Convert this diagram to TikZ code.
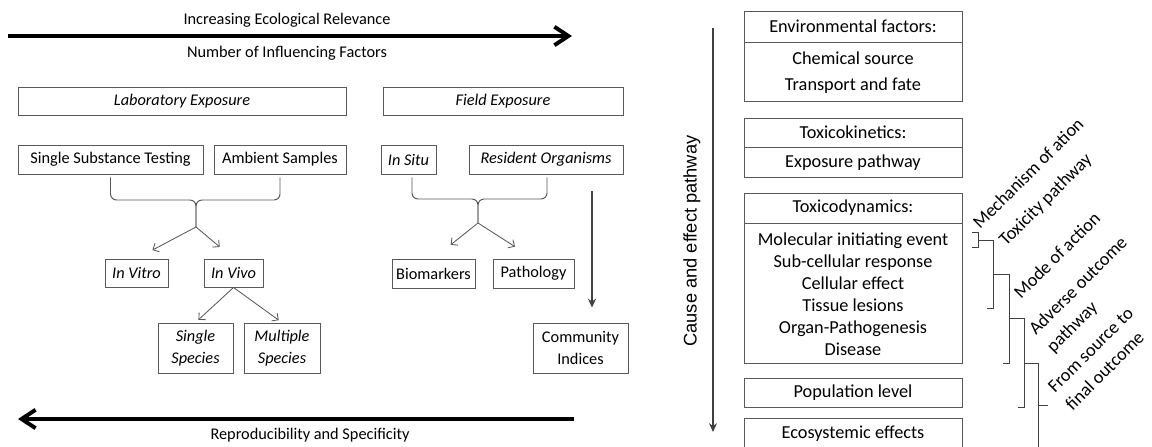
\documentclass[tikz,border=0pt]{standalone}
\usepackage{fontspec}
\setmainfont{Carlito}
\newfontfamily\arialfont{Liberation Sans}
\usetikzlibrary{arrows.meta,calc}
\definecolor{boxgray}{HTML}{595959}
\definecolor{linegray}{HTML}{404040}
\tikzset{
  lbox/.style 2 args={draw=boxgray, line width=0.7pt, inner sep=0pt, align=center,
    minimum width=#1*\kpx cm, minimum height=#2*\kpx cm,
    font=\fontsize{11.6}{15.6}\selectfont},
  rbox/.style 2 args={draw=boxgray, line width=0.7pt, inner sep=0pt, align=center,
    minimum width=#1*\kpx cm, minimum height=#2*\kpx cm,
    font=\fontsize{13}{15.6}\selectfont},
  ttl/.style={inner sep=0pt, font=\fontsize{11.6}{14}\selectfont},
  lbl/.style={rotate=45, inner sep=0pt, align=left, font=\fontsize{13}{17.6}\selectfont},
  thk/.style={line width=2.8pt, -{Straight Barb[length=3.5mm,width=4.6mm]}},
  thn/.style={draw=boxgray, line width=0.6pt, -{Straight Barb[length=1.2mm,width=2.4mm]}},
  vth/.style={draw=linegray, line width=0.8pt, -{Stealth[length=2.2mm,width=2mm]}},
  brc/.style={draw=boxgray, line width=0.7pt, rounded corners=1.5mm},
  brk/.style={draw=linegray, line width=0.7pt}
}
\begin{document}
\begin{tikzpicture}[x=0.025cm,y=-0.025cm]
\pgfmathsetmacro{\kpx}{0.025}
\useasboundingbox (0,0) rectangle (1152,447);
% relevance and reproducibility axes
\coordinate (ltail) at (8,36);
\coordinate (lhead) at (572,36);
\draw[thk] (ltail) -- (lhead);
\node[ttl] (incr) at (287,20) {Increasing Ecological Relevance};
\node[ttl] (numf) at (287,53) {Number of Influencing Factors};
\coordinate (rtail) at (574,419);
\coordinate (rhead) at (18,419);
\draw[thk] (rtail) -- (rhead);
\node[ttl] (repr) at (310,435) {Reproducibility and Specificity};
% exposure boxes
\node[lbox={328}{28}] (lab) at (182,101) {\textit{Laboratory Exposure}};
\node[lbox={240}{28}] (fld) at (503,101) {\textit{Field Exposure}};
\node[lbox={185}{29}] (sst) at (110.5,159.5) {Single Substance Testing};
\node[lbox={132}{29}] (amb) at (280,159.5) {Ambient Samples};
\node[lbox={55}{29}] (insitu) at (408.5,159.5) {\textit{In Situ}};
\node[lbox={154}{29}] (resid) at (546,159.5) {\textit{Resident Organisms}};
\node[lbox={63}{28}] (invitro) at (136.5,273) {\textit{In Vitro}};
\node[lbox={59}{28}] (invivo) at (233.5,273) {\textit{In Vivo}};
\node[lbox={83}{29}] (biom) at (433.5,273.5) {Biomarkers};
\node[lbox={81}{29}] (path) at (533.5,273.5) {Pathology};
\node[lbox={75}{50}] (single) at (195.5,348) {\textit{Single}\\\textit{Species}};
\node[lbox={76}{50}] (multi) at (282,348) {\textit{Multiple}\\\textit{Species}};
\node[lbox={95}{50}] (comm) at (580.5,348) {Community\\Indices};
% laboratory branch
\coordinate (labmid) at (196,200);
\coordinate (labfork) at (196,227);
\draw[brc] (sst.south) ++(0,3) |- (labmid) -- (labfork);
\draw[brc] (amb.south) ++(0,3) |- (labmid) -- (labfork);
\draw[thn, shorten >=0.45cm] (labfork) -- (invitro.north);
\draw[thn, shorten >=0.45cm] (labfork) -- (invivo.north);
\draw[thn, shorten >=0.1cm] (invivo.south) -- (single.north);
\draw[thn, shorten >=0.1cm] (invivo.south) -- (multi.north);
% field branch
\coordinate (fldmid) at (478,199);
\coordinate (fldfork) at (478,223);
\draw[brc] (insitu.south) ++(3.5,3) |- (fldmid) -- (fldfork);
\draw[brc] (resid.south) ++(1,3) |- (fldmid) -- (fldfork);
\draw[thn, shorten >=0.55cm] (fldfork) -- (biom.north);
\draw[thn, shorten >=0.55cm] (fldfork) -- (path.north);
\coordinate (cmx) at (592,0);
\draw[vth] ($(resid.south -| cmx)+(0,17)$) -- ($(comm.north -| cmx)+(0,-15)$);
% cause and effect column
\coordinate (ctop) at (713,28);
\coordinate (cbot) at (713,432);
\draw[vth] (ctop) -- (cbot);
\node[rotate=90, inner sep=0pt, font=\arialfont\fontsize{13}{15}\selectfont] (cause) at (692,241) {Cause and effect pathway};
\node[rbox={218}{31}] (envh) at (853,26.5) {Environmental factors:};
\node[rbox={218}{59}, anchor=north, font=\fontsize{13}{18.5}\selectfont] (envb) at (envh.south) {Chemical source\\Transport and fate};
\node[rbox={218}{29}] (tkh) at (853,132.5) {Toxicokinetics:};
\node[rbox={218}{30}, anchor=north] (tkb) at (tkh.south) {Exposure pathway};
\node[rbox={218}{30}] (tdh) at (853,208) {Toxicodynamics:};
\node[rbox={218}{140}, anchor=north] (tdb) at (tdh.south) {Molecular initiating event\\Sub-cellular response\\Cellular effect\\Tissue lesions\\Organ-Pathogenesis\\Disease};
\node[rbox={218}{29}] (pop) at (853,392.5) {Population level};
\node[rbox={218}{31}] (eco) at (853,433.5) {Ecosystemic effects};
% nested brackets
\draw[brk] (972,232)--++(6,0)--++(0,15)--++(-6,0);
\draw[brk] (978,240)--++(15,0)--++(0,68)--++(-6,0);
\draw[brk] (993,274)--++(16,0)--++(0,89)--++(-6,0);
\draw[brk] (1009,318)--++(15,0)--++(0,89)--++(-6,0);
\draw[brk] (1024,363)--++(14,0)--++(0,84);
\draw[brk] (1038,405)--++(10,0);
\node[lbl, anchor=base west] (moa) at (980,230) {Mechanism of ation};
\node[lbl, anchor=base west] (toxp) at (1006,247) {Toxicity pathway};
\node[lbl, anchor=base west] (mode) at (1021,300) {Mode of action};
\node[lbl, anchor=base west] (aop) at (1053.5,353.5) {Adverse outcome\\pathway};
\node[lbl, anchor=base west] (src) at (1072.5,411.5) {From source to\\final outcome};
\end{tikzpicture}
\end{document}
